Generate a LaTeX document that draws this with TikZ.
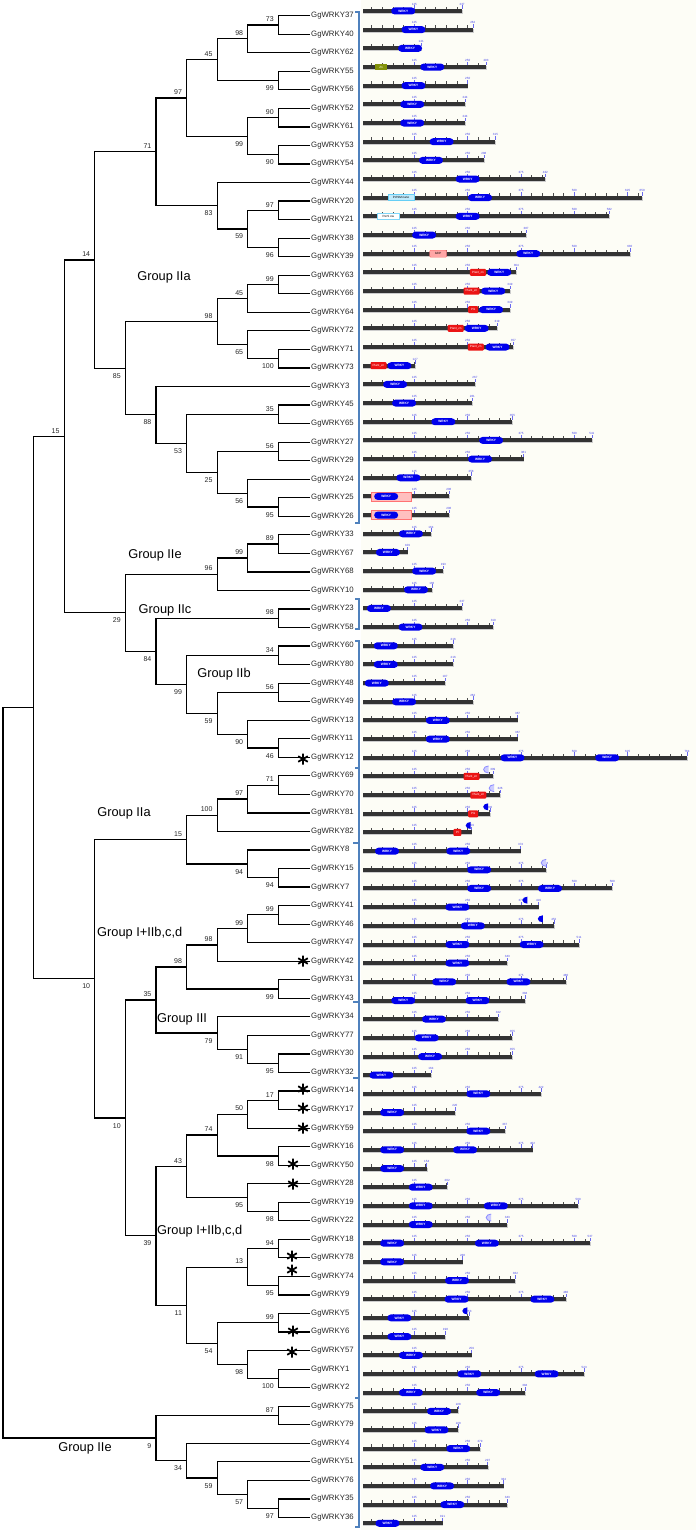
\documentclass[tikz,border=0pt]{standalone}
\usepackage{fontspec}
\setmainfont{Liberation Sans}
\usetikzlibrary{calc,shapes.misc}

\definecolor{brkblue}{RGB}{79,129,189}
\definecolor{domblue}{RGB}{0,0,235}
\definecolor{znred}{RGB}{235,20,20}
\definecolor{paper}{RGB}{253,253,246}
\definecolor{numblue}{RGB}{70,70,235}

\newcommand{\leaffont}{\fontsize{7.8}{8}\selectfont}
\newcommand{\bsfont}{\fontsize{7}{8}\selectfont}
\newcommand{\grpfont}{\fontsize{12.8}{14}\selectfont}
\newcommand{\numfont}{\fontsize{3}{3.5}\selectfont}
\newcommand{\domfont}{\fontsize{3.2}{3.5}\selectfont\bfseries}

% rows of the tree and of the protein bars (px)
\newcommand{\ry}[1]{15.7+18.54*(#1)}
\newcommand{\yb}[1]{11+18.67*(#1)}
\newcommand{\xa}[1]{361+0.4267*(#1)}

\tikzset{
  br/.style={line width=1.2pt, black},
  leaf/.style={anchor=west, inner sep=1pt, font=\leaffont, text=black!85},
  bsu/.style={anchor=south east, inner sep=0.5pt, font=\bsfont, text=black!85, xshift=-4pt, yshift=2.5pt},
  bsl/.style={anchor=north east, inner sep=0.5pt, font=\bsfont, text=black!85, xshift=-4pt, yshift=-4.5pt},
  grp/.style={font=\grpfont, inner sep=0pt},
  brk/.style={draw=brkblue, line width=1.1pt},
  tk/.style={black!70, line width=0.5pt},
  mtk/.style={numblue!80, line width=0.5pt},
  num/.style={font=\numfont, text=numblue, inner sep=0pt, anchor=south},
  wrky/.style={rounded rectangle, fill=domblue, text=white, font=\domfont, minimum width=24pt, minimum height=7pt, inner sep=0pt},
  zn/.style={rectangle, rounded corners=1pt, fill=znred, text=white, font=\numfont, minimum height=7pt, inner sep=0pt},
  astk/.style={line width=1.8pt, black},
}

% joint of a cladogram: name, column, upper child, lower child, bootstrap, side
\newcommand{\jn}[6]{%
  \path let \p1=(#3), \p2=(#4) in coordinate (#1) at ({(309-30.6*#2)*1pt},{(\y1+\y2)/2});
  \draw[br] (#3) -| (#1) |- (#4);
  \ifx&#5&\else\node[bs#6] (#1v) at (#1) {#5};\fi}

% protein bar: row, length
\newcommand{\protbar}[2]{%
  \fill[gray!40] (363,{\yb{#1}-1}) rectangle ({\xa{#2}+0.8},{\yb{#1}+3});
  \fill[black!80] (363,{\yb{#1}-2}) rectangle ({\xa{#2}},{\yb{#1}+2});
  \foreach \t in {25,50,...,#2}{\draw[tk] ({\xa{\t}},{\yb{#1}-2}) -- ++(0,-2.2);}
  \foreach \t in {125,250,...,625}{%
    \ifnum\t<\numexpr#2-25\relax
      \draw[mtk] ({\xa{\t}},{\yb{#1}-2}) -- ++(0,-3.5);
      \node[num] (t#1-\t) at ({\xa{\t}},{\yb{#1}-5.5}) {\t};
    \fi}
  \draw[mtk] ({\xa{#2}},{\yb{#1}-2}) -- ++(0,-3.5);
  \node[num] (e#1) at ({\xa{#2}},{\yb{#1}-5.5}) {#2};}

\begin{document}
\begin{tikzpicture}[x=1pt,y=-1pt]
\useasboundingbox (0,0) rectangle (696,1530);
\fill[paper] (361,0) rectangle (696,1530);

% leaf names
\foreach \n [count=\i from 0] in {37,40,62,55,56,52,61,53,54,44,20,21,38,39,63,66,64,72,71,73,3,45,65,27,29,24,25,26,33,67,68,10,23,58,60,80,48,49,13,11,12,69,70,81,82,8,15,7,41,46,47,42,31,43,34,77,30,32,14,17,59,16,50,28,19,22,18,78,74,9,5,6,57,1,2,75,79,4,51,76,35,36}
  \node[leaf] (L\n) at (310,{\ry{\i}}) {GgWRKY\n};

% upper clades
\jn{a1}{1}{L37.west}{L40.west}{73}{u}
\jn{a2}{2}{a1}{L62.west}{98}{u}
\jn{a3}{1}{L55.west}{L56.west}{99}{l}
\jn{a4}{3}{a2}{a3}{45}{u}
\jn{a5}{1}{L52.west}{L61.west}{90}{u}
\jn{a6}{1}{L53.west}{L54.west}{90}{l}
\jn{a7}{2}{a5}{a6}{99}{l}
\jn{a8}{4}{a4}{a7}{97}{u}
\jn{a9}{1}{L20.west}{L21.west}{97}{u}
\jn{a10}{1}{L38.west}{L39.west}{96}{l}
\jn{a11}{2}{a9}{a10}{59}{l}
\jn{a12}{3}{L44.west}{a11}{83}{l}
\jn{a13}{5}{a8}{a12}{71}{u}
\jn{b1}{1}{L63.west}{L66.west}{99}{u}
\jn{b2}{2}{b1}{L64.west}{45}{u}
\jn{b3}{1}{L71.west}{L73.west}{100}{l}
\jn{b4}{2}{L72.west}{b3}{65}{l}
\jn{b5}{3}{b2}{b4}{98}{u}
\jn{b6}{1}{L45.west}{L65.west}{35}{u}
\jn{b7}{1}{L27.west}{L29.west}{56}{u}
\jn{b8}{1}{L25.west}{L26.west}{95}{l}
\jn{b9}{2}{L24.west}{b8}{56}{l}
\jn{b10}{3}{b7}{b9}{25}{l}
\jn{b11}{4}{b6}{b10}{53}{l}
\jn{b12}{5}{L3.west}{b11}{88}{l}
\jn{b13}{6}{b5}{b12}{85}{l}
\jn{b14}{7}{a13}{b13}{14}{u}
\jn{c1}{1}{L33.west}{L67.west}{89}{u}
\jn{c2}{2}{c1}{L68.west}{99}{u}
\jn{c3}{3}{c2}{L10.west}{96}{u}
\jn{c4}{1}{L23.west}{L58.west}{98}{u}
\jn{c5}{1}{L60.west}{L80.west}{34}{u}
\jn{c6}{1}{L48.west}{L49.west}{56}{u}
\jn{c7}{1}{L11.west}{L12.west}{46}{l}
\jn{c8}{2}{L13.west}{c7}{90}{l}
\jn{c9}{3}{c6}{c8}{59}{l}
\jn{c10}{4}{c5}{c9}{99}{l}
\jn{c11}{5}{c4}{c10}{84}{l}
\jn{c12}{6}{c3}{c11}{29}{l}
\jn{c13}{8}{b14}{c12}{15}{u}

% middle clades
\jn{d1}{1}{L69.west}{L70.west}{71}{u}
\jn{d2}{2}{d1}{L81.west}{97}{u}
\jn{d3}{3}{d2}{L82.west}{100}{u}
\jn{d4}{1}{L15.west}{L7.west}{94}{l}
\jn{d5}{2}{L8.west}{d4}{94}{l}
\jn{d6}{4}{d3}{d5}{15}{u}
\jn{e1}{1}{L41.west}{L46.west}{99}{u}
\jn{e2}{2}{e1}{L47.west}{99}{u}
\jn{e3}{3}{e2}{L42.west}{98}{u}
\jn{e4}{1}{L31.west}{L43.west}{99}{l}
\jn{e5}{4}{e3}{e4}{98}{u}
\jn{e6}{1}{L30.west}{L32.west}{95}{l}
\jn{e7}{2}{L77.west}{e6}{91}{l}
\jn{e8}{3}{L34.west}{e7}{79}{l}
\jn{e9}{5}{e5}{e8}{35}{u}
\jn{f1}{1}{L14.west}{L17.west}{17}{u}
\jn{f2}{2}{f1}{L59.west}{50}{u}
\jn{f3}{1}{L16.west}{L50.west}{98}{l}
\jn{f4}{3}{f2}{f3}{74}{u}
\jn{f5}{1}{L19.west}{L22.west}{98}{l}
\jn{f6}{2}{L28.west}{f5}{95}{l}
\jn{f7}{4}{f4}{f6}{43}{u}
\jn{g1}{1}{L18.west}{L78.west}{94}{u}
\jn{g2}{1}{L74.west}{L9.west}{95}{l}
\jn{g3}{2}{g1}{g2}{13}{u}
\jn{g4}{1}{L5.west}{L6.west}{99}{u}
\jn{g5}{1}{L1.west}{L2.west}{100}{l}
\jn{g6}{2}{L57.west}{g5}{98}{l}
\jn{g7}{3}{g4}{g6}{54}{l}
\jn{g8}{4}{g3}{g7}{11}{l}
\jn{g9}{5}{f7}{g8}{39}{l}
\jn{g10}{6}{e9}{g9}{10}{l}
\jn{g11}{7}{d6}{g10}{10}{l}
\jn{h1}{9}{c13}{g11}{}{u}

% bottom clade and root
\jn{k1}{1}{L75.west}{L79.west}{87}{u}
\jn{k2}{1}{L35.west}{L36.west}{97}{l}
\jn{k3}{2}{L76.west}{k2}{57}{l}
\jn{k4}{3}{L51.west}{k3}{59}{l}
\jn{k5}{4}{L4.west}{k4}{34}{l}
\jn{k6}{5}{k1}{k5}{9}{l}
\jn{root}{10}{h1}{k6}{}{u}

% group names
\node[grp] (gIIa1) at (164,277) {Group IIa};
\node[grp] (gIIe1) at (155,555) {Group IIe};
\node[grp] (gIIc) at (165,610) {Group IIc};
\node[grp] (gIIb) at (224,674) {Group IIb};
\node[grp] (gIIa2) at (124,813) {Group IIa};
\node[grp, anchor=west] (gI1) at (97,933) {Group I+IIb,c,d};
\node[grp, anchor=west] (gIII) at (157,1019) {Group III};
\node[grp, anchor=west] (gI2) at (157,1231) {Group I+IIb,c,d};
\node[grp] (gIIe2) at (85,1448) {Group IIe};

% asterisks
\foreach \ax/\ay in {303/759,303/961,303/1089,303/1108,303/1128,293/1164,293/1184,292/1256,292/1270,293/1331,292/1352}
  \draw[astk] (\ax,\ay) ++(0,-5.5) -- ++(0,11) (\ax,\ay) ++(-4.8,-2.75) -- ++(9.6,5.5) (\ax,\ay) ++(-4.8,2.75) -- ++(9.6,-5.5);

% brackets
\draw[brk] (355,12) -- (359,12) -- (359,523) -- (355,523);
\draw[brk] (355,599) -- (359,599) -- (359,629) -- (355,629);
\draw[brk] (355,641) -- (359,641) -- (359,1527) -- (355,1527);
\draw[brk] (355,768) -- (359,768) (353,843) -- (359,843) (353,1002) -- (359,1002) (353,1078) -- (359,1078) (355,1398) -- (359,1398);

% protein bars
\foreach \r/\len in {0/237,1/262,2/141,3/293,4/250,5/244,6/244,7/315,8/288,9/432,10/659,11/582,12/387,13/630,14/364,15/349,16/349,17/319,18/357,19/127,20/267,21/261,22/355,23/541,24/381,25/258,26/206,27/206,28/164,29/109,30/193,31/166,32/237,33/310,34/216,35/216,36/197,37/262,38/367,39/367,40/764,41/309,42/326,43/302,44/259,45/374,46/433,47/589,48/416,49/452,50/511,51/343,52/480,53/384,54/322,55/355,56/355,57/164,58/422,59/220,60/337,61/402,62/154,63/202,64/509,65/343,66/537,67/238,68/362,69/480,70/253,71/198,72/259,73/523,74/384,75/228,76/228,77/279,78/297,79/334,80/343,81/191}
  {\protbar{\r}{\len}}

% extra domains
\node[rectangle, fill=olive!80!green, text=white, font=\numfont, minimum width=12pt, minimum height=6pt, inner sep=0pt] (x3) at ({\xa{47}},{\yb{3}}) {Zn};
\node[rectangle, fill=cyan!25, draw=cyan!60, text=black, font=\numfont, minimum width=26pt, minimum height=6pt, inner sep=0pt] (x10) at ({\xa{94}},{\yb{10}}) {PcfSM nano};
\node[rectangle, fill=white, draw=cyan!50, text=black, font=\numfont, minimum width=22pt, minimum height=6pt, inner sep=0pt] (x11) at ({\xa{64}},{\yb{11}}) {PerS ow};
\node[rectangle, rounded corners=1pt, fill=red!35, draw=red!60, text=black, font=\numfont, minimum width=17pt, minimum height=7pt, inner sep=0pt] (x13) at ({\xa{181}},{\yb{13}}) {bZIP};
\foreach \r in {26,27}
  \node[rectangle, fill=red!25, draw=red!55, minimum width=40pt, minimum height=9pt, inner sep=0pt] (hs\r) at ({\xa{70}},{\yb{\r}}) {};
\foreach \r/\c/\w/\s in {14/274/16/Plant\_zn,15/259/16/Plant\_zn,16/263/10/Plz,17/222/16/Plant\_zn,18/269/16/Plant\_zn,19/41/16/Plant\_zn,41/259/16/Plant\_zn,42/275/16/Plant\_zn,43/263/10/Plz,44/226/8/Pl}
  \node[zn, minimum width=\w pt] (z\r) at ({\xa{\c}},{\yb{\r}}) {\s};

% WRKY domains
\foreach \r/\c in {0/99,1/123,2/115,3/167,4/123,5/120,6/120,7/189,8/164,9/250,10/279,11/250,12/148,13/392,14/324,15/310,16/305,17/271,18/320,19/90,20/80,21/101,22/193,23/305,24/279,25/111,26/59,27/59,28/117,29/63,30/148,31/129,32/42,33/116,34/58,35/58,36/37,37/101,38/180,39/180,40/355,40/577,45/61,45/228,46/277,47/277,47/443,48/226,49/262,50/226,50/400,51/226,52/195,52/369,53/99,53/273,54/171,55/154,56/162,57/48,58/275,59/73,60/275,61/73,61/244,62/73,63/140,64/140,64/316,65/140,66/73,66/295,67/73,68/225,69/224,69/425,70/90,71/90,72/117,73/254,73/435,74/117,74/298,75/183,76/177,77/228,78/167,79/190,80/214,81/62}
  \node[wrky] (w\r-\c) at ({\xa{\c}},{\yb{\r}}) {WRKY};

% partial WRKY domains
\foreach \r/\c in {43/291,44/250,48/383,49/419,70/242}
  \fill[domblue] ({\xa{\c}+3},{\yb{\r}-3.5}) arc[start angle=90, end angle=270, x radius=5, y radius=3.5] -- cycle;
\foreach \r/\c in {41/292,42/305,46/427,65/298}
  \draw[blue!45, fill=blue!20, line width=0.8pt] ({\xa{\c}+3},{\yb{\r}-3.5}) arc[start angle=90, end angle=270, x radius=5, y radius=3.5];
\end{tikzpicture}
\end{document}
